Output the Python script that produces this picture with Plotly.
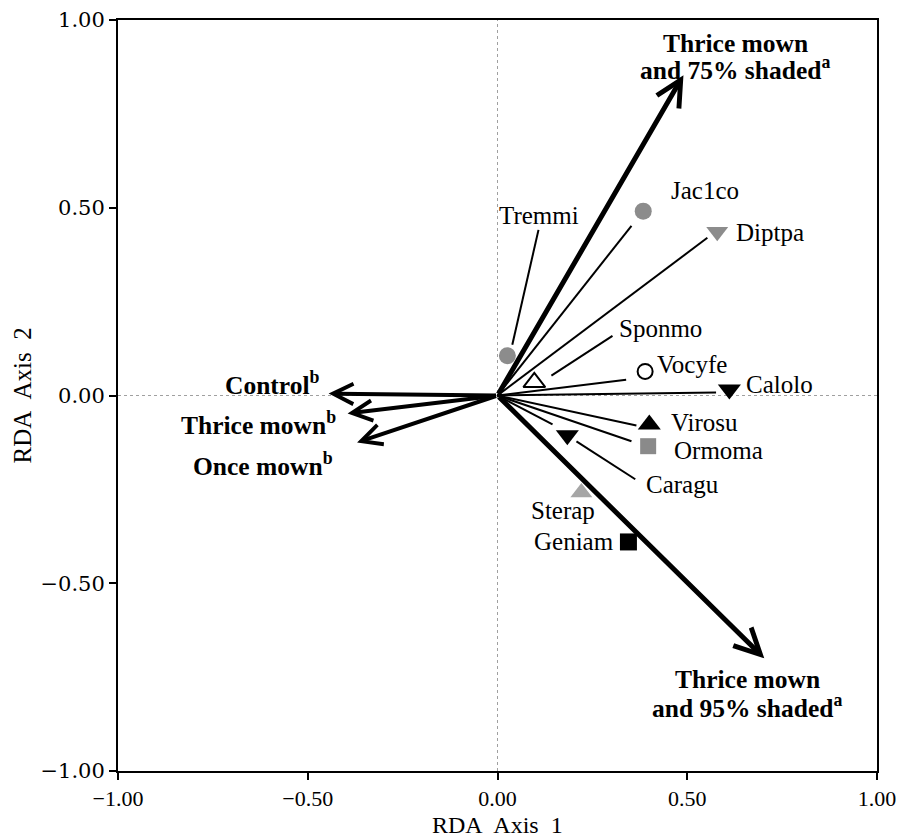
import plotly.graph_objects as go

# ---------------- data ----------------
# environmental (treatment) biplot arrows: tip coordinates
env_keys = ["T75", "T95", "Control", "Thrice", "Once"]
env_x = [0.49, 0.703, -0.445, -0.395, -0.370]
env_y = [0.853, -0.700, 0.005, -0.048, -0.125]

# treatment label text lines
env_label_lines = {
    "T75": ["Thrice mown", "and 75% shaded<sup>a</sup>"],
    "T95": ["Thrice mown", "and 95% shaded<sup>a</sup>"],
    "Control": ["Control<sup>b</sup>"],
    "Thrice": ["Thrice mown<sup>b</sup>"],
    "Once": ["Once mown<sup>b</sup>"],
}
env_label_x = [0.626, 0.658, -0.462, -0.421, -0.429]
env_label_y = [[0.938, 0.870], [-0.757, -0.829], [0.032], [-0.074], [-0.183]]

# species scores
species = ["Jac1co", "Diptpa", "Tremmi", "Sponmo", "Vocyfe", "Calolo",
           "Virosu", "Ormoma", "Caragu", "Sterap", "Geniam"]
sp_x = [0.384, 0.579, 0.026, 0.097, 0.389, 0.611, 0.400, 0.397, 0.184, 0.221, 0.345]
sp_y = [0.491, 0.436, 0.106, 0.035, 0.064, 0.016, -0.077, -0.135, -0.106, -0.258, -0.390]

# species label positions
sp_label_x = [0.453, 0.624, 0.11, 0.316, 0.416, 0.650, 0.453, 0.461, 0.387, 0.084, 0.092]
sp_label_y = [0.547, 0.433, 0.480, 0.178, 0.082, 0.029, -0.072, -0.146, -0.236, -0.305, -0.390]

# lines drawn from origin toward species
line_species = ["Jac1co", "Diptpa", "Vocyfe", "Calolo", "Virosu", "Ormoma", "Caragu"]
line_end_x = [0.353, 0.553, 0.339, 0.576, 0.366, 0.353, 0.145]
line_end_y = [0.452, 0.420, 0.042, 0.008, -0.080, -0.122, -0.077]

# leader lines from species point to its label
leader_species = ["Tremmi", "Sponmo", "Caragu"]
leader_x0 = [0.039, 0.142, 0.208]
leader_y0 = [0.135, 0.053, -0.122]
leader_x1 = [0.108, 0.303, 0.363]
leader_y1 = [0.441, 0.159, -0.223]

tick_vals = [-1.0, -0.5, 0.0, 0.5, 1.0]
tick_text = ["\u22121.00", "\u22120.50", "0.00", "0.50", "1.00"]
x_title = "RDA\u00a0 Axis\u00a0 1"
y_title = "RDA\u00a0 Axis\u00a0 2"

# ---------------- styles ----------------
GRAY = "#8c8c8c"
sp_style = {
    "Jac1co": dict(symbol="circle", color=GRAY, lw=0, size=17),
    "Diptpa": dict(symbol="triangle-down", color=GRAY, lw=0, size=19),
    "Tremmi": dict(symbol="circle", color=GRAY, lw=0, size=17),
    "Sponmo": dict(symbol="triangle-up", color="white", lw=2, size=19),
    "Vocyfe": dict(symbol="circle", color="white", lw=2, size=15),
    "Calolo": dict(symbol="triangle-down", color="black", lw=0, size=20),
    "Virosu": dict(symbol="triangle-up", color="black", lw=0, size=20),
    "Ormoma": dict(symbol="square", color="#8a8a8a", lw=0, size=16),
    "Caragu": dict(symbol="triangle-down", color="black", lw=0, size=20),
    "Sterap": dict(symbol="triangle-up", color="#a6a6a6", lw=0, size=19),
    "Geniam": dict(symbol="square", color="black", lw=0, size=17),
}
SERIF = "Liberation Serif, Times New Roman, serif"

fig = go.Figure()

# origin-to-species lines
lx, ly = [], []
for ex, ey in zip(line_end_x, line_end_y):
    lx += [0, ex, None]
    ly += [0, ey, None]
fig.add_trace(go.Scatter(x=lx, y=ly, mode="lines",
                         line=dict(color="black", width=2), hoverinfo="skip"))

# leader lines
qx, qy = [], []
for a, b, c, d in zip(leader_x0, leader_y0, leader_x1, leader_y1):
    qx += [a, c, None]
    qy += [b, d, None]
fig.add_trace(go.Scatter(x=qx, y=qy, mode="lines",
                         line=dict(color="black", width=2), hoverinfo="skip"))

# species markers
for name, x, y in zip(species, sp_x, sp_y):
    s = sp_style[name]
    fig.add_trace(go.Scatter(
        x=[x], y=[y], mode="markers", name=name,
        marker=dict(symbol=s["symbol"], color=s["color"], size=s["size"],
                    line=dict(color="black", width=s["lw"]))))

annotations = []
# treatment arrows
for k, x, y in zip(env_keys, env_x, env_y):
    w = 5 if k in ("T75", "T95") else 4
    annotations.append(dict(
        x=x, y=y, ax=0, ay=0, xref="x", yref="y", axref="x", ayref="y",
        text="", showarrow=True, arrowhead=5, arrowsize=1.0, arrowwidth=w,
        arrowcolor="black", standoff=0, startstandoff=0))

# treatment labels
for k, lxv, lys in zip(env_keys, env_label_x, env_label_y):
    lines = env_label_lines[k]
    anchor = "center" if k in ("T75", "T95") else "right"
    for t, yv in zip(lines, lys):
        annotations.append(dict(
            x=lxv, y=yv, xref="x", yref="y", text="<b>" + t + "</b>",
            showarrow=False, xanchor=anchor, yanchor="middle",
            font=dict(family=SERIF, size=25.5, color="black")))

# species labels
for name, x, y in zip(species, sp_label_x, sp_label_y):
    anchor = "center" if name == "Tremmi" else "left"
    annotations.append(dict(
        x=x, y=y, xref="x", yref="y", text=name, showarrow=False,
        xanchor=anchor, yanchor="middle",
        font=dict(family=SERIF, size=25, color="black")))

# axis titles
annotations.append(dict(x=0.5, y=0, xref="paper", yref="paper", text=x_title,
                        showarrow=False, xanchor="center", yanchor="middle",
                        yshift=-54, font=dict(family=SERIF, size=24, color="black")))
annotations.append(dict(x=0, y=0.5, xref="paper", yref="paper", text=y_title,
                        showarrow=False, xanchor="center", yanchor="middle",
                        textangle=-90, xshift=-96,
                        font=dict(family=SERIF, size=25, color="black")))

shapes = [
    dict(type="line", xref="x", yref="y", x0=-1, x1=1, y0=0, y1=0,
         line=dict(color="#a0a0a0", width=1, dash="dot"), layer="below"),
    dict(type="line", xref="x", yref="y", x0=0, x1=0, y0=-1, y1=1,
         line=dict(color="#a0a0a0", width=1, dash="dot"), layer="below"),
]

axis_common = dict(range=[-1, 1], tickvals=tick_vals, ticktext=tick_text,
                   showgrid=False, zeroline=False, showline=True, mirror=True,
                   linecolor="black", linewidth=2, ticks="outside", ticklen=7,
                   tickwidth=2, tickcolor="black", automargin=False,
                   ticklabeloverflow="allow")

# the page body adds an 8px offset, so margins are shifted to compensate
fig.update_layout(
    width=896, height=831,
    margin=dict(l=110, r=27, t=12, b=68, autoexpand=False),
    paper_bgcolor="white", plot_bgcolor="white",
    showlegend=False,
    annotations=annotations, shapes=shapes,
    font=dict(family=SERIF, color="black"),
    xaxis=dict(**axis_common,
               tickfont=dict(family=SERIF, size=22, color="black")),
    yaxis=dict(**axis_common,
               tickfont=dict(family="DejaVu Serif, serif", size=21, color="black")),
)

fig.write_html("out.html")
